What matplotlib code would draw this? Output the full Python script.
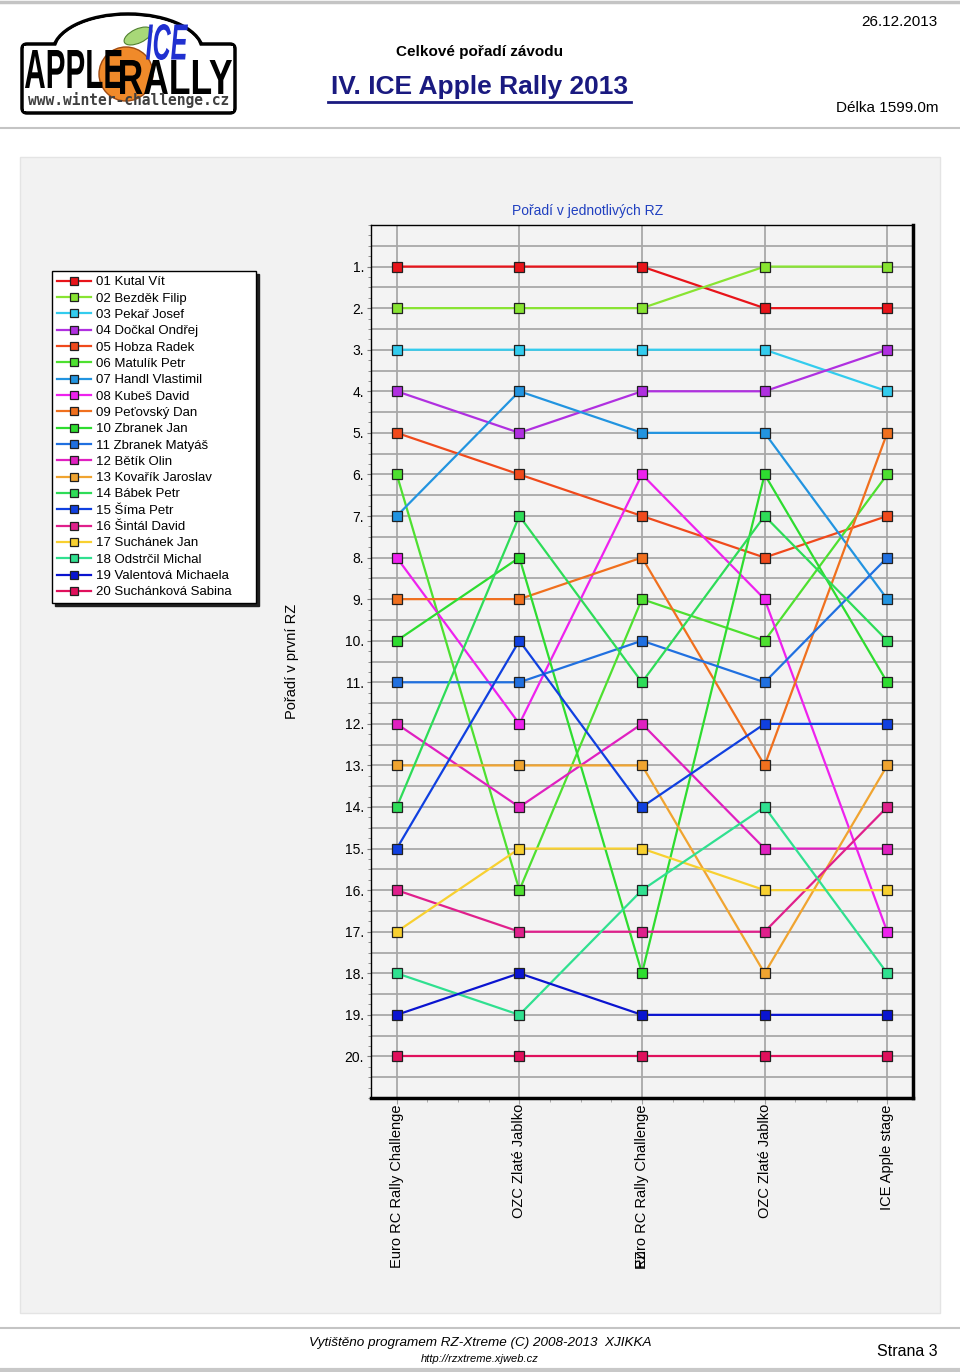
import matplotlib
matplotlib.use("Agg")
import matplotlib.pyplot as plt
import numpy as np
from matplotlib.patches import Rectangle, FancyBboxPatch, Ellipse, Circle, PathPatch
from matplotlib.textpath import TextPath
from matplotlib.font_manager import FontProperties
from matplotlib.transforms import Affine2D
from matplotlib.ticker import MultipleLocator

plt.rcParams['font.family'] = ['Liberation Sans', 'DejaVu Sans']

# ---------------- data ----------------
stages = ["Euro RC Rally Challenge", "OZC Zlaté Jablko", "Euro RC Rally Challenge",
          "OZC Zlaté Jablko", "ICE Apple stage"]

drivers = ["01 Kutal Vít", "02 Bezděk Filip", "03 Pekař Josef", "04 Dočkal Ondřej",
           "05 Hobza Radek", "06 Matulík Petr", "07 Handl Vlastimil", "08 Kubeš David",
           "09 Peťovský Dan", "10 Zbranek Jan", "11 Zbranek Matyáš", "12 Bětík Olin",
           "13 Kovařík Jaroslav", "14 Bábek Petr", "15 Šíma Petr", "16 Šintál David",
           "17 Suchánek Jan", "18 Odstrčil Michal", "19 Valentová Michaela",
           "20 Suchánková Sabina"]

positions = [
    [1, 1, 1, 2, 2],
    [2, 2, 2, 1, 1],
    [3, 3, 3, 3, 4],
    [4, 5, 4, 4, 3],
    [5, 6, 7, 8, 7],
    [6, 16, 9, 10, 6],
    [7, 4, 5, 5, 9],
    [8, 12, 6, 9, 17],
    [9, 9, 8, 13, 5],
    [10, 8, 18, 6, 11],
    [11, 11, 10, 11, 8],
    [12, 14, 12, 15, 15],
    [13, 13, 13, 18, 13],
    [14, 7, 11, 7, 10],
    [15, 10, 14, 12, 12],
    [16, 17, 17, 17, 14],
    [17, 15, 15, 16, 16],
    [18, 19, 16, 14, 18],
    [19, 18, 19, 19, 19],
    [20, 20, 20, 20, 20],
]

colors = ["#e8141a", "#88e432", "#33ccee", "#b030e0", "#f04a1c", "#4ee030",
          "#2294e0", "#ee22ee", "#f0701e", "#2edc30", "#2070e0", "#e020c0",
          "#f0a430", "#2edc58", "#1040e0", "#e0208c", "#f8d030", "#30e090",
          "#0a14d0", "#e0105c"]

rank_labels = [f"{r}." for r in range(1, 21)]

race_title = "IV. ICE Apple Rally 2013"
subtitle = "Celkové pořadí závodu"
date_text = "26.12.2013"
length_text = "Délka 1599.0m"

# ---------------- figure ----------------
W, H = 960, 1372
fig = plt.figure(figsize=(W / 100, H / 100), dpi=100, facecolor="white")

ov = fig.add_axes([0, 0, 1, 1])
ov.set_xlim(0, W)
ov.set_ylim(H, 0)
ov.axis("off")
ov.set_zorder(0)


def fitted_text(axis, s, x0, x1, ytop, ybot, color, z, weight="bold", style="normal"):
    """Draw text s stretched to fill a pixel box (y axis inverted)."""
    fp = FontProperties(family="Liberation Sans", weight=weight, style=style)
    tp = TextPath((0, 0), s, size=1, prop=fp)
    ext = tp.get_extents()
    sx = (x1 - x0) / ext.width
    sy = (ybot - ytop) / ext.height
    tr = Affine2D().translate(-ext.x0, -ext.y0).scale(sx, -sy).translate(x0, ybot)
    axis.add_patch(PathPatch(tr.transform_path(tp), facecolor=color, edgecolor="none",
                             zorder=z))


# header / footer rules
ov.plot([0, W], [2, 2], color="#c4c4c4", lw=2.5)
ov.plot([0, W], [128, 128], color="#c4c4c4", lw=1.5)
ov.plot([0, W], [1328, 1328], color="#c4c4c4", lw=1.5)
ov.plot([0, W], [1370, 1370], color="#c8c8c8", lw=3)

# panel
ov.add_patch(Rectangle((20, 157), 920, 1156, facecolor="#f2f2f2",
                       edgecolor="#e4e4e4", lw=1))

# logo
ov.add_patch(Ellipse((128, 52), 150, 76, facecolor="white", edgecolor="black", lw=2.5, zorder=1))
ov.add_patch(FancyBboxPatch((22, 44), 213, 69, boxstyle="round,pad=0,rounding_size=5",
                            facecolor="white", edgecolor="black", lw=2.5, zorder=2))
ov.add_patch(Ellipse((128, 52), 146, 72, facecolor="white", edgecolor="none", zorder=3))
ov.add_patch(Rectangle((24, 46), 209, 65, facecolor="white", edgecolor="none", zorder=3))
ov.add_patch(Ellipse((138, 36), 30, 14, angle=-25, facecolor="#a8d878",
                     edgecolor="#508030", lw=0.8, zorder=4))
ov.add_patch(Circle((126, 74), 27, facecolor="#f08a2a", edgecolor="#a04a10", lw=1, zorder=4))
fitted_text(ov, "APPLE", 25, 122, 50, 88, "black", 5)
fitted_text(ov, "RALLY", 120, 232, 60, 94, "black", 5)
fitted_text(ov, "ICE", 146, 188, 24, 60, "#2030d0", 6, style="italic")
ov.text(129, 100, "www.winter-challenge.cz", fontsize=10.5, fontweight="bold",
        family="DejaVu Sans Mono", color="#404040", ha="center", va="center", zorder=5)

# header texts
ov.text(480, 52, subtitle, fontsize=11, fontweight="bold", ha="center", va="center")
ov.text(480, 87, race_title, fontsize=19, fontweight="bold", color="#1a1a80",
        ha="center", va="center")
ov.plot([328, 631], [101.5, 101.5], color="#1a1a80", lw=2)
ov.text(938, 22, date_text, fontsize=11, ha="right", va="center")
ov.text(938, 108, length_text, fontsize=11, ha="right", va="center")

# chart subtitle
ov.text(588, 211, "Pořadí v jednotlivých RZ", fontsize=10, color="#2040c0",
        ha="center", va="center")

# footer
ov.text(480, 1343, "Vytištěno programem RZ-Xtreme (C) 2008-2013  XJIKKA", fontsize=9.7,
        style="italic", ha="center", va="center")
ov.text(480, 1359, "http://rzxtreme.xjweb.cz", fontsize=8, style="italic",
        ha="center", va="center")
ov.text(938, 1351, "Strana 3", fontsize=11.5, ha="right", va="center")

# ---------------- chart ----------------
ax = fig.add_axes([371 / W, 1 - 1098 / H, 542 / W, 873 / H])
ax.set_zorder(1)
ax.set_facecolor("#f3f3f3")

x = np.arange(len(stages))
for name, pos, col in zip(drivers, positions, colors):
    ax.plot(x, pos, color=col, lw=1.6, marker="s", ms=6.5, mfc=col, mec="#202020",
            mew=0.9, label=name, zorder=3)

ax.set_xlim(-0.21, len(stages) - 1 + 0.21)
ax.set_ylim(21, 0)

for yy in np.arange(0.5, 21, 0.5):
    ax.axhline(yy, color="#a8a8a8", lw=1.3, zorder=1)
for xx in x:
    ax.axvline(xx, color="#a8a8a8", lw=1.3, zorder=1)

ax.set_yticks(range(1, 21))
ax.set_yticklabels(rank_labels, fontsize=10)
ax.yaxis.set_minor_locator(MultipleLocator(0.25))
ax.tick_params(axis="y", which="major", length=3, pad=2, color="#808080")
ax.tick_params(axis="y", which="minor", length=2, color="#808080")

ax.set_xticks(x)
ax.set_xticklabels(stages, rotation=90, fontsize=10.5, va="top", ha="center")
ax.xaxis.set_minor_locator(MultipleLocator(0.25))
ax.tick_params(axis="x", which="major", length=4, pad=0.5, color="#a0a0a0")
ax.tick_params(axis="x", which="minor", length=3, color="#a0a0a0")

for s in ["left", "top"]:
    ax.spines[s].set_linewidth(1.0)
for s in ["right", "bottom"]:
    ax.spines[s].set_linewidth(2.5)
for s in ax.spines.values():
    s.set_color("black")

ax.set_ylabel("Pořadí v první RZ", fontsize=10.5)
ax.yaxis.set_label_coords(-0.133, 0.5)

ov.text(641, 1258, "RZ", fontsize=10.5, rotation=90, ha="center", va="center")

# legend
handles, labels = ax.get_legend_handles_labels()
leg = fig.legend(handles, labels, loc="upper left",
                 bbox_to_anchor=(52 / W, 1 - 604 / H, 204 / W, 333 / H),
                 bbox_transform=fig.transFigure, mode="expand",
                 frameon=True, fancybox=False, edgecolor="black", framealpha=1,
                 fontsize=9.5, handlelength=2.6, handletextpad=0.35,
                 labelspacing=0.31, borderpad=0.38, borderaxespad=0,
                 markerscale=0.95,
                 shadow={"color": "#202020", "alpha": 1})
leg.get_frame().set_linewidth(1.0)

fig.savefig("out.png", dpi=100, facecolor="white")
